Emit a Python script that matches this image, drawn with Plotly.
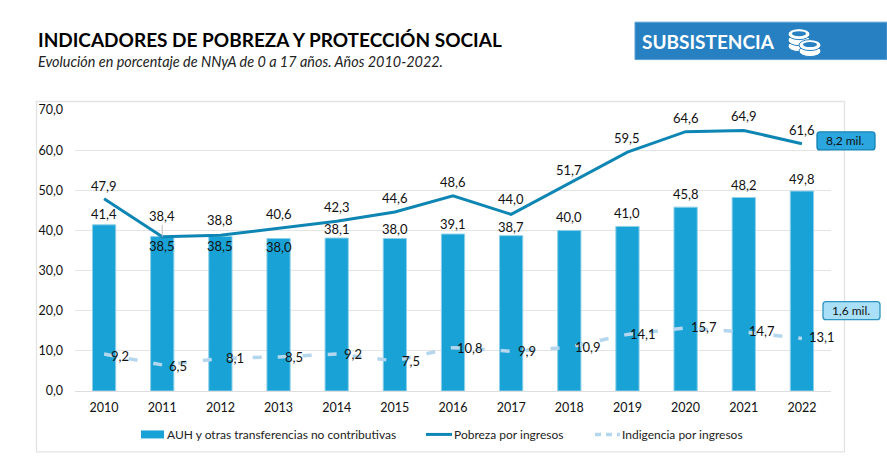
import plotly.graph_objects as go

W, H = 887, 461
L, R, T, B = 75, 831, 110, 391.5

years = ["2010","2011","2012","2013","2014","2015","2016","2017","2018","2019","2020","2021","2022"]
auh = [41.4,38.5,38.5,38.0,38.1,38.0,39.1,38.7,40.0,41.0,45.8,48.2,49.8]
pobreza = [47.9,38.4,38.8,40.6,42.3,44.6,48.6,44.0,51.7,59.5,64.6,64.9,61.6]
indigencia = [9.2,6.5,8.1,8.5,9.2,7.5,10.8,9.9,10.9,14.1,15.7,14.7,13.1]
legend_names = ["AUH y otras transferencias no contributivas", "Pobreza por ingresos", "Indigencia por ingresos"]

# label offsets in pixels
auh_dy = [11,-10,-10,-9,9,9,10,9,13,13,13,13,12]
pob_dy = [13,21,15,14,14,14,14,15,13,14,14,14,14]
ind_dx = [16,16,15,15,16,16,17,16,19,16,18,18,20]
ind_dy = [-2,-1,0,0,0,0,0,0,0,0,1,1,1]

FONT = "Lato, Carlito, sans-serif"
TXT = "#111111"
BAR = "#19A2D6"
POB = "#0E86B4"
IND = "#B4D7EE"

def fx(x): return (x - L) / (R - L)
def fy(y): return (B - y) / (B - T)

xs = list(range(len(years)))
fig = go.Figure()
fig.add_bar(x=xs, y=auh, name=legend_names[0],
            marker=dict(color=BAR, line=dict(color="#8FD0EA", width=1)), width=0.4)
fig.add_scatter(x=xs, y=pobreza, name=legend_names[1], mode="lines",
                line=dict(color=POB, width=3))
fig.add_scatter(x=xs, y=indigencia, name=legend_names[2], mode="lines",
                line=dict(color=IND, width=3.5, dash="9px,16px"))

ann = []
def lab(x, y, v, dx=0, dy=0):
    ann.append(dict(x=x, y=y, xref="x", yref="y", text=f"{v:.1f}".replace(".", ","), showarrow=False,
                    xshift=dx, yshift=dy, font=dict(size=13, color=TXT, family=FONT)))
for i in xs:
    lab(i, auh[i], auh[i], 0, auh_dy[i])
    lab(i, pobreza[i], pobreza[i], 0, pob_dy[i])
    lab(i, indigencia[i], indigencia[i], ind_dx[i], ind_dy[i])

def free(x, y, text, size, color="#000", bold=False, italic=False, anchor="left"):
    t = f"<b>{text}</b>" if bold else text
    t = f"<i>{t}</i>" if italic else t
    ann.append(dict(x=fx(x), y=fy(y), xref="paper", yref="paper", text=t, showarrow=False,
                    xanchor=anchor, yanchor="middle", font=dict(size=size, color=color, family=FONT)))

free(36, 39, "INDICADORES DE POBREZA Y PROTECCIÓN SOCIAL", 19, "#000", bold=True)
free(36, 61, "Evolución en porcentaje de NNyA de 0 a 17 años. Años 2010-2022.", 14.4, "#222", italic=True)
free(640, 41, "SUBSISTENCIA", 19, "#fff", bold=True)
free(845, 141, "8,2 mil.", 12, TXT, anchor="center")
free(851, 311, "1,6 mil.", 12, TXT, anchor="center")
free(165, 435, legend_names[0], 12, "#222")
free(452, 435, legend_names[1], 12, "#222")
free(620, 435, legend_names[2], 12, "#222")

shapes = []
def rect(x0, y0, x1, y1, fill, line="rgba(0,0,0,0)", w=1, layer="below"):
    shapes.append(dict(type="rect", xref="paper", yref="paper", x0=fx(x0), x1=fx(x1), y0=fy(y0), y1=fy(y1),
                       fillcolor=fill, line=dict(color=line, width=w), layer=layer))
def seg(x0, x1, y, color, w, dash="solid"):
    shapes.append(dict(type="line", xref="paper", yref="paper", x0=fx(x0), x1=fx(x1), y0=fy(y), y1=fy(y),
                       line=dict(color=color, width=w, dash=dash), layer="above"))
def round_rect(x0, y0, x1, y1, r, fill, line):
    a0, a1, b0, b1 = fx(x0), fx(x1), fy(y0), fy(y1)
    rx = r / (R - L); ry = r / (B - T)
    path = (f"M {a0+rx} {b0} L {a1-rx} {b0} Q {a1} {b0} {a1} {b0-ry} L {a1} {b1+ry} Q {a1} {b1} {a1-rx} {b1} "
            f"L {a0+rx} {b1} Q {a0} {b1} {a0} {b1+ry} L {a0} {b0-ry} Q {a0} {b0} {a0+rx} {b0} Z")
    shapes.append(dict(type="path", xref="paper", yref="paper", path=path, fillcolor=fill,
                       line=dict(color=line, width=1.3), layer="above"))
def ell(cx, cy, rx, ry, fill, line="rgba(0,0,0,0)", w=1):
    shapes.append(dict(type="circle", xref="paper", yref="paper", x0=fx(cx-rx), x1=fx(cx+rx),
                       y0=fy(cy+ry), y1=fy(cy-ry), fillcolor=fill, line=dict(color=line, width=w), layer="above"))

rect(36.5, 101.5, 844.5, 452.5, "#fff", "#E3E3E3", 1.3)
rect(635, 22, 887, 59.5, "#2680C2", "#5A9FD4", 1)
round_rect(817, 132, 875, 150, 3, "#2BA6DF", "#1483B4")
round_rect(823, 302, 880, 320, 3, "#A9DFF7", "#2E95C0")

# legend swatches
rect(141, 431, 164, 439, BAR, layer="above")
seg(426, 452, 435, POB, 3)
seg(595, 620, 435, IND, 3.5, "6px,5px")

# coins icon
for cx, cy in [(799, 46), (799, 40), (799, 34), (810, 51), (810, 45)]:
    ell(cx, cy, 11, 5.5, "#fff", "#2680C2", 1)
ell(799, 33.5, 7, 2.5, "#2680C2")
ell(810, 44.5, 7, 2.5, "#2680C2")

# leader line on the 2011 label
shapes.append(dict(type="line", xref="x", yref="y", x0=1, x1=1, y0=pobreza[1], y1=pobreza[1]+3,
                   line=dict(color="#BDBDBD", width=1), layer="above"))

fig.update_layout(
    width=W, height=H, autosize=False, paper_bgcolor="#fff", plot_bgcolor="rgba(0,0,0,0)",
    margin=dict(l=L, r=W-R, t=T, b=H-B, pad=0), separators=",.", font=dict(family=FONT, color=TXT, size=12.5),
    bargap=0.6, showlegend=False, annotations=ann, shapes=shapes,
    xaxis=dict(range=[-0.5, 12.5], tickmode="array", tickvals=xs, ticktext=years, showgrid=False,
               showline=True, linecolor="#DDDDDD", linewidth=1, ticks="", zeroline=False,
               tickfont=dict(size=12.5, color=TXT), ticklabelstandoff=5),
    yaxis=dict(range=[0, 70], dtick=10, tickformat=".1f", gridcolor="#E4E4E4", gridwidth=1, zeroline=False,
               showline=False, ticks="", tickfont=dict(size=12.5, color=TXT), ticklabelstandoff=11),
)
fig.write_html("out.html", post_script="document.body.style.margin='0';", config={"displayModeBar": False})
